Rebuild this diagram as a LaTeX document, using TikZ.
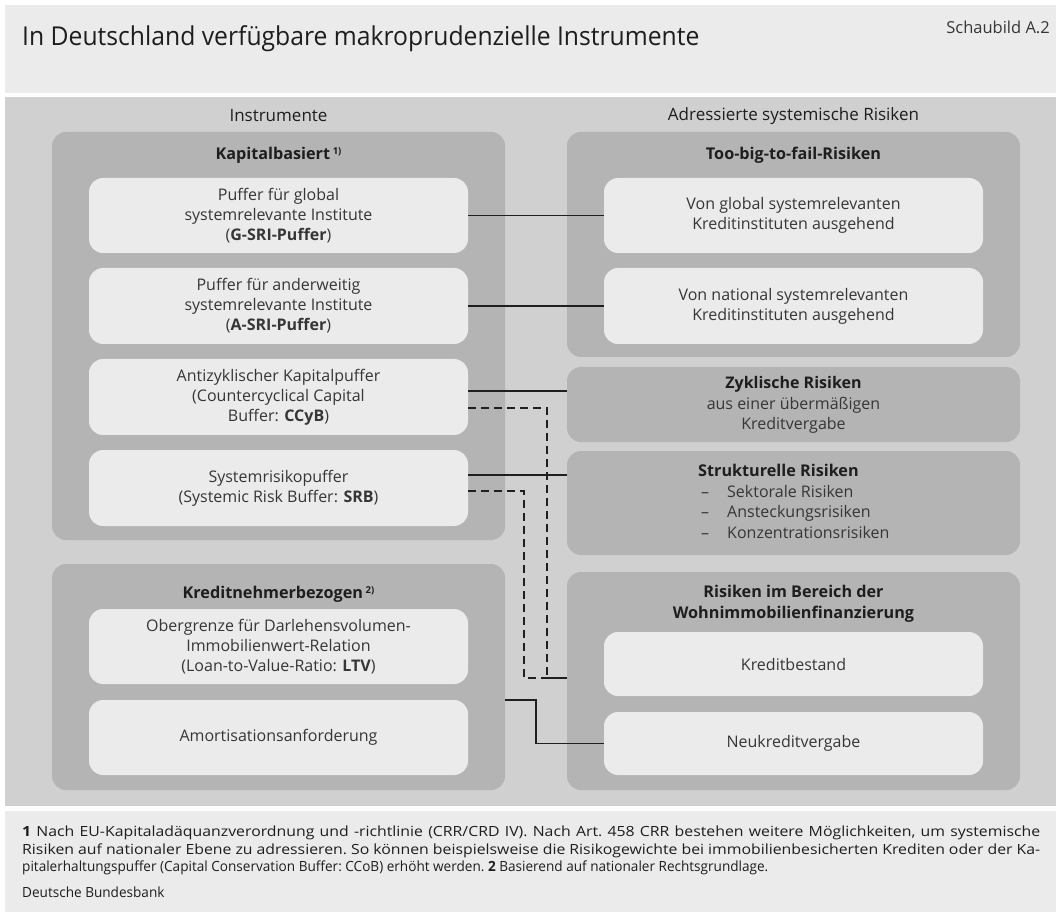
\documentclass[tikz,border=0pt]{standalone}
\usepackage{fontspec}
\setmainfont{Open Sans}
\newfontfamily\condfont{Open Sans}[FakeStretch=0.95]
\newfontfamily\notefont{Open Sans}[FakeStretch=0.97]
\newfontfamily\notewide{Open Sans}[FakeStretch=1.13]
\usetikzlibrary{calc}
\definecolor{bandgray}{HTML}{EBEBEB}
\definecolor{panelgray}{HTML}{D0D0D0}
\definecolor{boxgray}{HTML}{B4B4B4}
\definecolor{innergray}{HTML}{EBEBEB}
\definecolor{txt}{HTML}{363636}
\definecolor{headtxt}{HTML}{1E1E1E}
\begin{document}
\begin{tikzpicture}[x=1pt,y=-1pt,
  outerbox/.style={fill=boxgray, rounded corners=14pt, minimum width=453pt, inner sep=0pt},
  innerbox/.style={fill=innergray, rounded corners=14pt, minimum width=379pt, align=center,
    font=\fontsize{16}{20}\selectfont, text=txt, inner sep=0pt},
  head/.style={font=\bfseries\fontsize{16.2}{21}\selectfont, text=headtxt, align=center, inner sep=0pt},
  coltitle/.style={font=\fontsize{17}{20}\selectfont, text=headtxt, inner sep=0pt},
  bodytxt/.style={font=\fontsize{16}{20.5}\selectfont, text=txt, inner sep=0pt, align=center},
  solidline/.style={line width=1.8pt, draw=black!88},
  dashline/.style={line width=2.2pt, draw=black!88, dash pattern=on 8pt off 5pt}]
\useasboundingbox (0,0) rectangle (1061,917);
% backgrounds
\fill[bandgray] (5,5) rectangle (1056,93);
\fill[panelgray] (5,97) rectangle (1056,806);
\fill[bandgray] (5,811) rectangle (1056,912);
% title
\node[anchor=base west, inner sep=0pt, font=\condfont\fontsize{26}{30}\selectfont, text=headtxt] (title) at (22,46) {In Deutschland verfügbare makroprudenzielle Instrumente};
\node[anchor=base east, inner sep=0pt, font=\fontsize{16.5}{20}\selectfont, text=txt] (nr) at (1050,34) {Schaubild A.2};
% column titles
\node[coltitle] (colL) at (278.5,116) {Instrumente};
\node[coltitle] (colR) at (793.5,116) {Adressierte systemische Risiken};
% left outer boxes
\node[outerbox, minimum height=408pt] (kap) at (278.5,336) {};
\node[head] (kapT) at (278.5,155) {Kapitalbasiert\,\raisebox{5pt}{\fontsize{9.5}{9.5}\selectfont 1)}};
\node[outerbox, minimum height=226pt] (kred) at (278.5,677) {};
\node[head] (kredT) at (278.5,594) {Kreditnehmerbezogen\,\raisebox{5pt}{\fontsize{9.5}{9.5}\selectfont 2)}};
% left inner boxes
\node[innerbox, minimum height=75pt] (gsri) at (278.5,215.5) {Puffer für global\\systemrelevante Institute\\(\textbf{G-SRI-Puffer})};
\node[innerbox, minimum height=76pt] (asri) at (278.5,306) {Puffer für anderweitig\\systemrelevante Institute\\(\textbf{A-SRI-Puffer})};
\node[innerbox, minimum height=76pt] (ccyb) at (278.5,397) {Antizyklischer Kapitalpuffer\\(Countercyclical Capital\\Buffer: \textbf{CCyB})};
\node[innerbox, minimum height=76pt] (srb) at (278.5,488) {Systemrisikopuffer\\(Systemic Risk Buffer: \textbf{SRB})};
\node[innerbox, minimum height=75pt] (ltv) at (278.5,646.5) {Obergrenze für Darlehensvolumen-\\Immobilienwert-Relation\\(Loan-to-Value-Ratio: \textbf{LTV})};
\node[innerbox, minimum height=75pt] (amort) at (278.5,737.5) {Amortisationsanforderung};
% right outer boxes
\node[outerbox, minimum height=225pt] (tbtf) at (793.5,244.5) {};
\node[head] (tbtfT) at (793.5,155) {Too-big-to-fail-Risiken};
\node[outerbox, minimum height=75pt] (zykl) at (793.5,404.5) {};
\node[bodytxt] (zyklT) at (793.5,405) {{\bfseries\color{headtxt}Zyklische Risiken}\\aus einer übermäßigen\\Kreditvergabe};
\node[outerbox, minimum height=104pt] (strukt) at (793.5,503) {};
\node[head, anchor=west] (struktT) at (698,470) {Strukturelle Risiken};
\node[bodytxt, align=left, anchor=north west] (struktL) at (701,485) {%
  \makebox[26pt][l]{–}Sektorale Risiken\\\makebox[26pt][l]{–}Ansteckungsrisiken\\\makebox[26pt][l]{–}Konzentrationsrisiken};
\node[outerbox, minimum height=218pt] (wohn) at (793.5,681) {};
\node[head] (wohnT) at (793.5,603.5) {Risiken im Bereich der\\Wohnimmobilienfinanzierung};
% right inner boxes
\node[innerbox, minimum height=75pt] (vglob) at (793.5,215.5) {Von global systemrelevanten\\Kreditinstituten ausgehend};
\node[innerbox, minimum height=76pt] (vnat) at (793.5,306) {Von national systemrelevanten\\Kreditinstituten ausgehend};
\node[innerbox, minimum height=64pt] (bestand) at (793.5,664) {Kreditbestand};
\node[innerbox, minimum height=63pt] (neu) at (793.5,743.5) {Neukreditvergabe};
% connectors
\draw[solidline] (gsri.east) -- (vglob.west);
\draw[solidline] (asri.east) -- (vnat.west);
\draw[solidline] ([yshift=6pt]ccyb.east) -- ([yshift=6pt]ccyb.east -| zykl.west);
\draw[solidline] ([yshift=13pt]srb.east) -- ([yshift=13pt]srb.east -| strukt.west);
\draw[dashline] ([yshift=-11pt]ccyb.east) -- ++(79,0) |- ([yshift=3pt]wohn.west);
\draw[dashline] ([yshift=-3pt]srb.east) -- ++(56,0) |- ([yshift=3pt]wohn.west);
\draw[solidline] ([yshift=-23pt]kred.east) -- ++(31,0) |- (neu.west);
% footnotes
\node[anchor=north west, inner sep=0pt, text width=1018pt, align=justify,
  font=\notewide\fontsize{14}{17.5}\selectfont\frenchspacing, text=headtxt] (fn) at (22,826) {%
  \textbf{1} Nach EU-Kapitaladäquanzverordnung und -richtlinie (CRR/CRD IV). Nach Art. 458 CRR bestehen weitere Möglichkeiten, um systemische\linebreak
  Risiken auf nationaler Ebene zu adressieren. So können beispielsweise die Risikogewichte bei immobilienbesicherten Krediten oder der Ka-\linebreak
  \notefont pitalerhaltungspuffer (Capital Conservation Buffer: CCoB) erhöht werden. \textbf{2} Basierend auf nationaler Rechtsgrundlage.};
\node[anchor=base west, inner sep=0pt, font=\notefont\fontsize{14}{17}\selectfont, text=headtxt] (src) at (22,897) {Deutsche Bundesbank};
\end{tikzpicture}
\end{document}
